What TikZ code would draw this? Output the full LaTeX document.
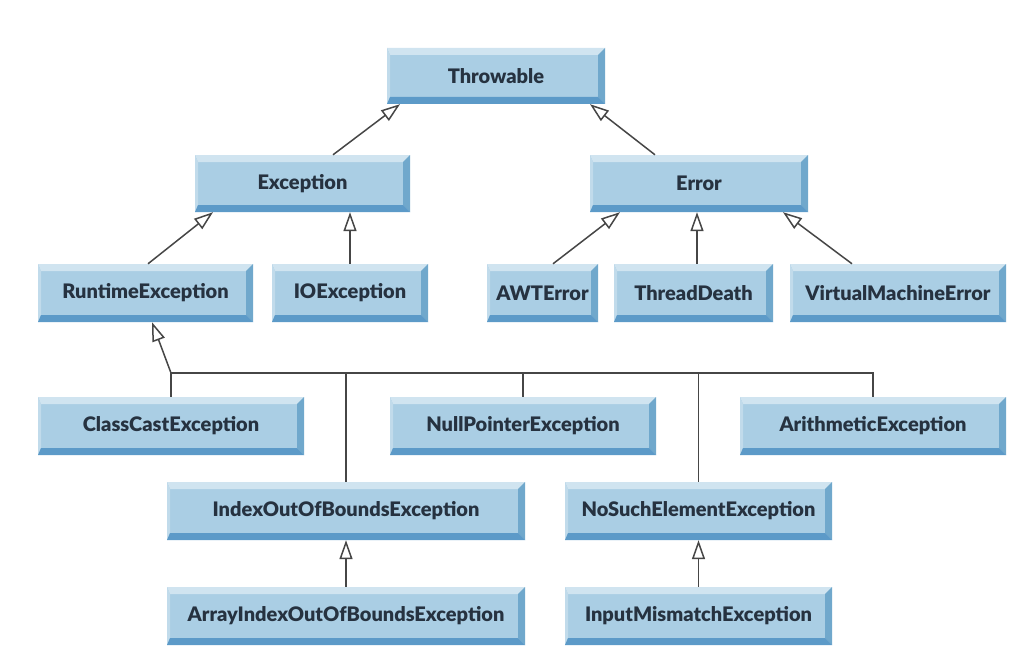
\documentclass[tikz,border=0pt]{standalone}
\usepackage{fontspec}
\setmainfont{Lato}[BoldFont={Lato Black}]
\usetikzlibrary{arrows.meta,calc}
\definecolor{boxfill}{RGB}{170,206,228}
\definecolor{boxtop}{RGB}{208,228,240}
\definecolor{boxright}{RGB}{112,168,204}
\definecolor{boxbot}{RGB}{92,154,200}
\definecolor{txt}{RGB}{38,50,64}
\definecolor{lin}{RGB}{70,70,70}
\tikzset{
  cls/.style={minimum height=58pt, inner sep=0pt, fill=boxfill, text=txt,
    font=\fontsize{20}{20}\selectfont\bfseries,
    path picture={
      \fill[boxtop] (path picture bounding box.north west) -- (path picture bounding box.north east)
        -- ([shift={(-7pt,-7pt)}]path picture bounding box.north east)
        -- ([shift={(3pt,-7pt)}]path picture bounding box.north west) -- cycle;
      \fill[boxtop!60!boxfill] (path picture bounding box.north west) -- ([shift={(3pt,-7pt)}]path picture bounding box.north west)
        -- ([shift={(3pt,7pt)}]path picture bounding box.south west) -- (path picture bounding box.south west) -- cycle;
      \fill[boxright] (path picture bounding box.north east) -- (path picture bounding box.south east)
        -- ([shift={(-7pt,7pt)}]path picture bounding box.south east)
        -- ([shift={(-7pt,-7pt)}]path picture bounding box.north east) -- cycle;
      \fill[boxbot] (path picture bounding box.south west) -- (path picture bounding box.south east)
        -- ([shift={(-7pt,7pt)}]path picture bounding box.south east)
        -- ([shift={(3pt,7pt)}]path picture bounding box.south west) -- cycle;
    }},
  inh/.style={draw=lin, line width=1.5pt, -{Triangle[open, length=19pt, width=13pt, fill=white]}},
  lnk/.style={draw=lin, line width=1.5pt}
}
\begin{document}
\begin{tikzpicture}[x=1pt,y=-1pt]
\useasboundingbox[fill=white] (0,0) rectangle (1029,661);
% row 0
\node[cls, minimum width=218pt, minimum height=56pt] (thr) at (496,76) {Throwable};
% row 1
\node[cls, minimum width=215pt, minimum height=57pt] (exc) at (302.5,183.5) {Exception};
\node[cls, minimum width=218pt, minimum height=57pt] (err) at (699,183.5) {Error};
% row 2
\node[cls, minimum width=215pt] (rte) at (145.5,293) {RuntimeException};
\node[cls, minimum width=156pt] (ioe) at (350,293) {IOException};
\node[cls, minimum width=111pt] (awt) at (542.5,293) {AWTError};
\node[cls, minimum width=159pt] (td) at (693.5,293) {ThreadDeath};
\node[cls, minimum width=216pt] (vme) at (898,293) {VirtualMachineError};
% row 3
\node[cls, minimum width=266pt] (cce) at (171,426) {ClassCastException};
\node[cls, minimum width=266pt] (npe) at (523,426) {NullPointerException};
\node[cls, minimum width=266pt] (ae) at (873,426) {ArithmeticException};
% row 4
\node[cls, minimum width=358pt] (ioob) at (346,511) {IndexOutOfBoundsException};
\node[cls, minimum width=267pt] (nse) at (698.5,511) {NoSuchElementException};
% row 5
\node[cls, minimum width=358pt] (aioob) at (346,616) {ArrayIndexOutOfBoundsException};
\node[cls, minimum width=267pt] (ime) at (698.5,616) {InputMismatchException};
% connectors
\draw[inh] ([xshift=30.5pt]exc.north) -- ([xshift=-96pt]thr.south);
\draw[inh] ([xshift=-44pt]err.north) -- ([xshift=94pt]thr.south);
\draw[inh] ([xshift=2.5pt]rte.north) -- ([xshift=-89.5pt]exc.south);
\draw[inh] (ioe.north) -- (ioe.north |- exc.south);
\draw[inh] ([xshift=10.5pt]awt.north) -- ([xshift=-79pt]err.south);
\draw[inh] ([xshift=3.5pt]td.north) -- ([xshift=3.5pt]td.north |- err.south);
\draw[inh] ([xshift=-46pt]vme.north) -- ([xshift=84pt]err.south);
\coordinate (bus) at (171,373);
\draw[lnk] (cce.north) -- (cce.north |- bus) -- (ae.north |- bus) -- (ae.north);
\draw[lnk] (ioob.north) -- (ioob.north |- bus);
\draw[lnk] (npe.north) -- (npe.north |- bus);
\draw[lnk] (nse.north) -- (nse.north |- bus);
\draw[inh] (cce.north |- bus) -- ([xshift=6.5pt]rte.south);
\draw[inh] (aioob.north) -- (aioob.north |- ioob.south);
\draw[inh] (ime.north) -- (ime.north |- nse.south);
\end{tikzpicture}
\end{document}
